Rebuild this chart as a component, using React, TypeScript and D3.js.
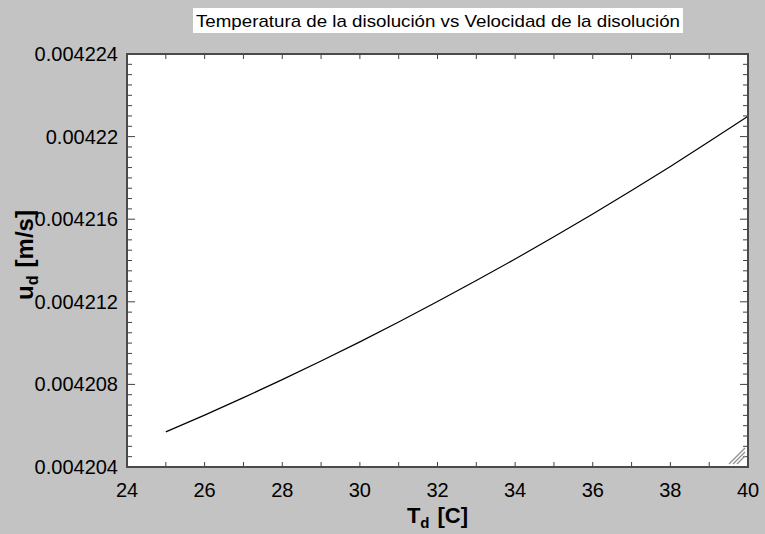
import React from 'react';
import * as d3 from 'd3';

// Temperature of the solution [C]
const temps = [25, 26, 27, 28, 29, 30, 31, 32, 33, 34, 35, 36, 37, 38, 39, 40];
// Velocity of the solution [m/s]
const velocities = [
  0.0042057, 0.00420651, 0.00420736, 0.00420823, 0.00420913, 0.00421006, 0.00421102, 0.00421201,
  0.00421303, 0.00421407, 0.00421515, 0.00421625, 0.00421739, 0.00421855, 0.00421976, 0.00422099,
];
const xTickLabels = ['24', '26', '28', '30', '32', '34', '36', '38', '40'];
const yTickLabels = ['0.004204', '0.004208', '0.004212', '0.004216', '0.00422', '0.004224'];

const W = 765;
const H = 534;
const margin = { top: 54, right: 17, bottom: 67, left: 127 };
const FONT = 'Arial, "Liberation Sans", Helvetica, sans-serif';

const App = () => {
  const x = d3.scaleLinear().domain([24, 40]).range([margin.left, W - margin.right]);
  const y = d3.scaleLinear().domain([0.004204, 0.004224]).range([H - margin.bottom, margin.top]);

  const line = d3.line<number>()
    .x((_, i) => x(temps[i]))
    .y(d => y(d));

  const xMinor = d3.range(24, 40.001, 1);
  const yMinor = d3.range(0, 41).map(i => 0.004204 + i * 0.0000005);
  const x0 = x.range()[0], x1 = x.range()[1];
  const y0 = y.range()[0], y1 = y.range()[1];

  return (
    <svg width={W} height={H} style={{ position: 'absolute', left: 0, top: 0 }} fontFamily={FONT}>
      <rect x={0} y={0} width={W} height={H} fill="#c3c3c3" />

      {/* title */}
      <rect x={193} y={8} width={490} height={25} fill="#ffffff" />
      <text x={438} y={27} textAnchor="middle" fontSize={17} fill="#000" textLength={484} lengthAdjust="spacingAndGlyphs">
        Temperatura de la disolución vs Velocidad de la disolución
      </text>

      {/* plot area */}
      <rect x={x0} y={y1} width={x1 - x0} height={y0 - y1} fill="#ffffff" />

      {/* ticks (inward on all four sides) */}
      <g stroke="#404040" strokeWidth={1}>
        {xMinor.map((t, i) => (
          <g key={'xt' + i}>
            <line x1={x(t)} x2={x(t)} y1={y0} y2={y0 - 5} />
            <line x1={x(t)} x2={x(t)} y1={y1} y2={y1 + 5} />
          </g>
        ))}
        {yMinor.map((v, i) => {
          const len = i % 8 === 0 ? 8 : 5;
          return (
            <g key={'yt' + i}>
              <line x1={x0} x2={x0 + len} y1={y(v)} y2={y(v)} />
              <line x1={x1} x2={x1 - len} y1={y(v)} y2={y(v)} />
            </g>
          );
        })}
      </g>

      {/* data line */}
      <path d={line(velocities) || ''} fill="none" stroke="#000" strokeWidth={1.2} />

      {/* frame */}
      <rect x={x0} y={y1} width={x1 - x0} height={y0 - y1} fill="none" stroke="#4a4a4a" strokeWidth={2} />

      {/* resize grip */}
      <g stroke="#909090" strokeWidth={1.2}>
        {[0, 4, 8].map(o => (
          <line key={'g' + o} x1={x1 - 3 - o - 8} y1={y0 - 3} x2={x1 - 3} y2={y0 - 3 - o - 8} />
        ))}
      </g>

      {/* tick labels */}
      <g fontSize={20} fill="#000">
        {xTickLabels.map(l => (
          <text key={'xl' + l} x={x(+l)} y={y0 + 30} textAnchor="middle">{l}</text>
        ))}
        {yTickLabels.map(l => (
          <text key={'yl' + l} x={x0 - 9} y={y(+l) + 7} textAnchor="end">{l}</text>
        ))}
      </g>

      {/* axis titles */}
      <text x={(x0 + x1) / 2} y={523} textAnchor="middle" fontSize={22} fontWeight="bold" fill="#000">
        T<tspan fontSize={15} dy={5}>d</tspan><tspan dy={-5} dx={8}>[C]</tspan>
      </text>
      <text transform={`translate(33, 255) rotate(-90)`} textAnchor="middle" fontSize={24} fontWeight="bold" fill="#000">
        u<tspan fontSize={16} dy={5}>d</tspan><tspan dy={-5} dx={8}>[m/s]</tspan>
      </text>
    </svg>
  );
};

export default App;
